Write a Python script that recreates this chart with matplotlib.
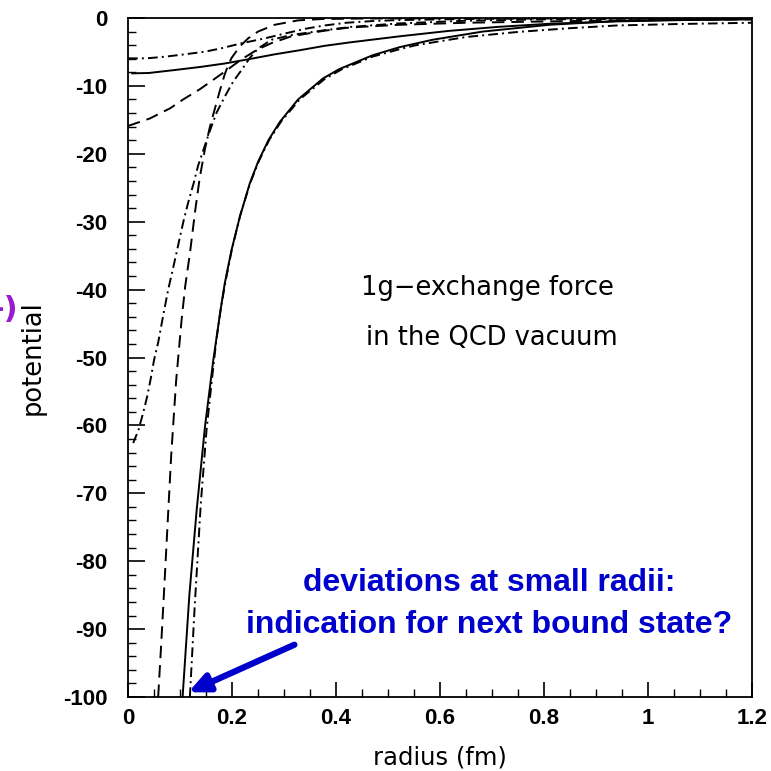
import matplotlib
matplotlib.use("Agg")
import matplotlib.pyplot as plt
import numpy as np

plt.rcParams['axes.unicode_minus'] = False
plt.rcParams['lines.scale_dashes'] = False

# ---------------- data ----------------
# 1: solid, Coulomb-like
r1 = [0.105, 0.118, 0.132, 0.148, 0.164, 0.177, 0.186, 0.199, 0.215, 0.234, 0.25, 0.27,
      0.292, 0.327, 0.375, 0.407, 0.47, 0.522, 0.586, 0.682, 0.81, 0.94, 1.07, 1.2]
v1 = [-100, -85, -72.5, -60.2, -50.4, -43.5, -39.1, -34.2, -29.3, -24.4, -21.2, -18.0,
      -15.3, -12.0, -8.9, -7.5, -5.5, -4.3, -3.2, -2.0, -1.0, -0.45, -0.25, -0.15]
# 2: dash-dot, Coulomb-like (nearly on top of 1)
r2 = [0.119, 0.128, 0.140, 0.151, 0.162, 0.170, 0.179, 0.188, 0.200, 0.216, 0.235, 0.252,
      0.272, 0.294, 0.33, 0.378, 0.41, 0.47, 0.522, 0.554, 0.65, 0.75, 0.85, 0.94, 1.05, 1.2]
v2 = [-100, -87, -71.5, -60.7, -52.8, -47.4, -42.5, -38.6, -34.0, -29.0, -24.3, -21.0,
      -17.9, -15.3, -12.0, -9.0, -7.6, -5.7, -4.6, -4.0, -2.8, -2.05, -1.5, -1.1, -0.9, -0.7]
# 3: dashed, steep
r3 = [0.058, 0.064, 0.070, 0.0765, 0.083, 0.0925, 0.103, 0.11, 0.119, 0.129, 0.138, 0.148,
      0.157, 0.164, 0.177, 0.186, 0.193, 0.199, 0.215, 0.231, 0.25, 0.282, 0.327, 0.372,
      0.45, 0.6, 0.8, 1.0, 1.2]
v3 = [-100, -92, -83.5, -74, -64.5, -53.5, -44.5, -39.5, -34.7, -28.5, -23.5, -19.3,
      -16.2, -14.2, -10.6, -8.3, -6.9, -5.9, -4.2, -3.0, -2.0, -1.0, -0.35, -0.15,
      -0.08, -0.05, -0.03, -0.02, -0.02]
# 4: dash-dot, steep
r4 = [0.010, 0.02, 0.029, 0.037, 0.044, 0.05, 0.058, 0.066, 0.077, 0.085, 0.093, 0.10,
      0.108, 0.116, 0.126, 0.135, 0.146, 0.157, 0.17, 0.186, 0.202, 0.218, 0.234, 0.25,
      0.276, 0.315, 0.378, 0.43, 0.52, 0.65, 0.8, 1.0, 1.2]
v4 = [-62.6, -60.7, -58.2, -55.7, -53.0, -50.4, -47.8, -44.5, -40.1, -37.4, -34.7, -32.2,
      -29.5, -27.1, -24.4, -21.7, -19.2, -16.7, -14.0, -11.6, -9.4, -7.7, -5.9, -4.5,
      -3.2, -2.5, -1.8, -1.3, -0.8, -0.4, -0.2, -0.1, -0.1]
# 5: solid, flat
r5 = [0.008, 0.04, 0.09, 0.14, 0.186, 0.23, 0.282, 0.33, 0.378, 0.426, 0.522, 0.617,
      0.713, 0.81, 0.94, 1.07, 1.2]
v5 = [-8.15, -8.1, -7.66, -7.2, -6.7, -6.1, -5.35, -4.75, -4.1, -3.6, -2.7, -1.9,
      -1.3, -0.85, -0.5, -0.3, -0.2]
# 6: dashed, flat
r6 = [0.0, 0.042, 0.081, 0.106, 0.138, 0.164, 0.186, 0.22, 0.25, 0.276, 0.314, 0.378,
      0.426, 0.522, 0.65, 0.81, 1.0, 1.2]
v6 = [-15.9, -14.8, -13.3, -12.0, -10.5, -9.1, -7.9, -6.0, -4.6, -3.7, -2.7, -1.87,
      -1.4, -1.0, -0.7, -0.5, -0.3, -0.2]
# 7: dash-dot, flat
r7 = [0.0, 0.036, 0.071, 0.109, 0.148, 0.179, 0.218, 0.263, 0.301, 0.34, 0.378, 0.42,
      0.47, 0.522, 0.65, 0.8, 1.0, 1.2]
v7 = [-5.94, -5.94, -5.7, -5.35, -4.96, -4.47, -3.73, -3.0, -2.3, -1.6, -1.1, -0.7,
      -0.45, -0.3, -0.15, -0.05, -0.03, -0.02]

x_ticks = [0, 0.2, 0.4, 0.6, 0.8, 1.0, 1.2]
x_tick_labels = ["0", "0.2", "0.4", "0.6", "0.8", "1", "1.2"]
y_ticks = [0, -10, -20, -30, -40, -50, -60, -70, -80, -90, -100]
y_tick_labels = ["0", "-10", "-20", "-30", "-40", "-50", "-60", "-70", "-80", "-90", "-100"]

# ---------------- figure ----------------
fig = plt.figure(figsize=(7.71, 7.71), dpi=100)
ax = fig.add_axes([128 / 771, 1 - 697 / 771, (752 - 128) / 771, (697 - 18) / 771])

lw = 1.4
dash = (0, (9, 5))
dashdot = (0, (7, 3, 1.4, 3))
ax.plot(r1, v1, color='black', lw=lw, ls='-')
ax.plot(r2, v2, color='black', lw=lw, ls=dashdot)
ax.plot(r3, v3, color='black', lw=lw, ls=dash)
ax.plot(r4, v4, color='black', lw=lw, ls=dashdot)
ax.plot(r5, v5, color='black', lw=lw, ls='-')
ax.plot(r6, v6, color='black', lw=lw, ls=dash)
ax.plot(r7, v7, color='black', lw=lw, ls=dashdot)

ax.set_xlim(0, 1.2)
ax.set_ylim(-100, 0)

tick_font = dict(family='Liberation Sans', weight='bold', size=16)
ax.set_xticks(x_ticks)
ax.set_xticklabels(x_tick_labels, fontdict=tick_font)
ax.set_yticks(y_ticks)
ax.set_yticklabels(y_tick_labels, fontdict=tick_font)
ax.set_xticks(np.arange(0, 1.2001, 0.05), minor=True)
ax.set_yticks(np.arange(-100, 0.01, 2), minor=True)
ax.tick_params(axis='both', which='both', direction='in', top=False, right=False)
ax.tick_params(axis='y', which='major', length=12, width=1.2, pad=15)
ax.tick_params(axis='y', which='minor', length=6, width=1.0)
ax.tick_params(axis='x', which='major', length=11, width=1.2, pad=8)
ax.tick_params(axis='x', which='minor', length=5.5, width=1.0)
for s in ax.spines.values():
    s.set_linewidth(1.3)

ax.set_xlabel("radius (fm)", fontsize=17.5, family='DejaVu Sans', labelpad=12)
ax.set_ylabel("potential", fontsize=18.5, family='DejaVu Sans', labelpad=12)

ax.text(0.692, -39.8, "1g\u2212exchange force", fontsize=18.5, family='DejaVu Sans',
        ha='center', va='center')
ax.text(0.70, -47.1, "in the QCD vacuum", fontsize=18.5, family='DejaVu Sans',
        ha='center', va='center')

blue = '#0000CC'
ax.text(0.694, -83.2, "deviations at small radii:", fontsize=23, family='Liberation Sans',
        weight='bold', color=blue, ha='center', va='center')
ax.text(0.694, -89.4, "indication for next bound state?", fontsize=23,
        family='Liberation Sans', weight='bold', color=blue, ha='center', va='center')
ax.annotate("", xy=(0.116, -99.3), xytext=(0.32, -92.3),
            arrowprops=dict(arrowstyle='-|>,head_length=1.2,head_width=0.55',
                            color=blue, lw=4.5, shrinkA=0, shrinkB=0),
            annotation_clip=False)

fig.text(18 / 771, 1 - 310 / 771, "-)", fontsize=22, family='DejaVu Sans', weight='bold',
         color='#9A1ACD', ha='right', va='center')

fig.savefig("out.png", dpi=100)
